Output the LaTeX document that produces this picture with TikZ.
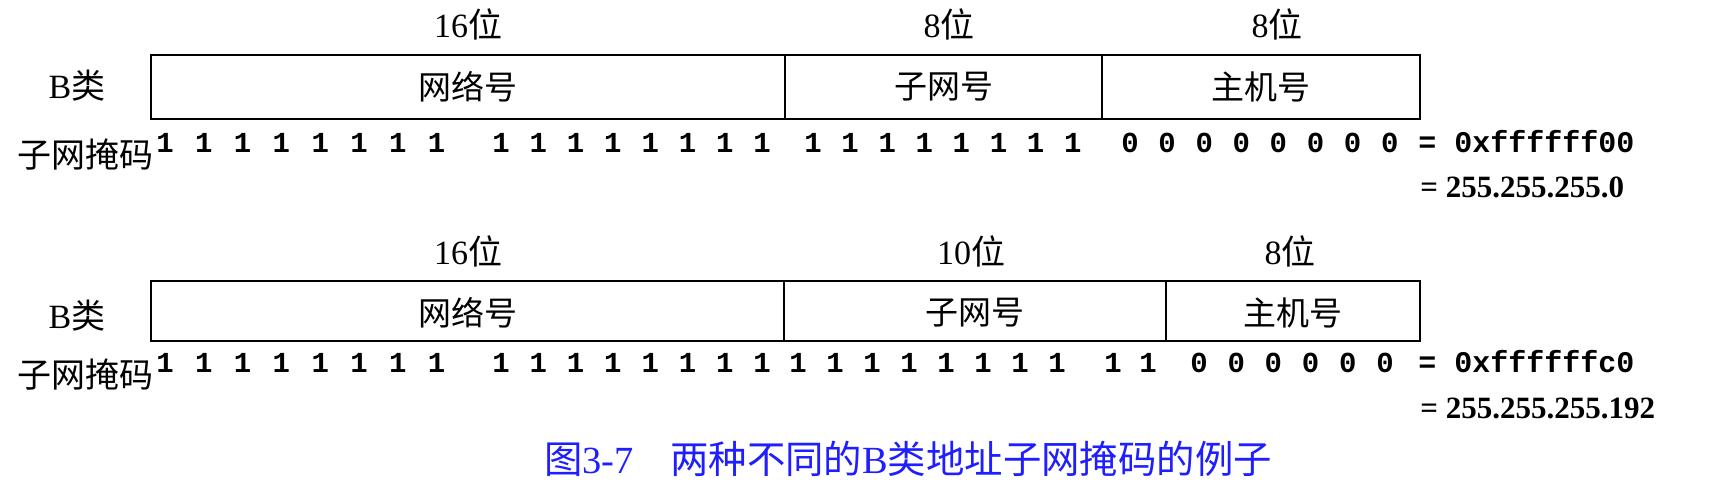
\documentclass[tikz,border=0pt]{standalone}
\usepackage{fontspec}
\setmainfont{Liberation Serif}
\newfontfamily\cjk{Noto Sans CJK SC}
\newfontfamily\monof{Liberation Mono}
\definecolor{capblue}{RGB}{30,30,255}
\begin{document}
\begin{tikzpicture}[x=0.5pt,y=-0.5pt,
  field/.style={draw,line width=1.2pt},
  lbl/.style={inner sep=0pt,font=\fontsize{17}{17}\selectfont},
  boxlbl/.style={inner sep=0pt,font=\fontsize{16.5}{16.5}\selectfont\cjk},
  bit/.style={inner sep=0pt,anchor=base,font=\fontsize{14.5}{14.5}\selectfont\monof\bfseries},
  eqhex/.style={inner sep=0pt,anchor=base west,font=\fontsize{15}{15}\selectfont\monof\bfseries},
  eqdec/.style={inner sep=0pt,anchor=base west,font=\fontsize{15.5}{15.5}\selectfont\bfseries},
  captext/.style={inner sep=0pt,text=capblue,font=\fontsize{19.2}{19.2}\selectfont}]
\useasboundingbox (0,0) rectangle (1726,494);
% row 1
\node[lbl] (w1a) at (468,24) {16{\cjk 位}};
\node[lbl] (w1b) at (949,24) {8{\cjk 位}};
\node[lbl] (w1c) at (1277,24) {8{\cjk 位}};
\node[lbl] (b1) at (77,86) {B{\cjk 类}};
\draw[field] (151,55) rectangle (1420,119);
\draw[field] (785,55) -- (785,119);
\draw[field] (1102,55) -- (1102,119);
\node[boxlbl] (n1) at (468,87) {网络号};
\node[boxlbl] (s1) at (944,87) {子网号};
\node[boxlbl] (h1) at (1261,87) {主机号};
\node[lbl] (m1) at (86,155) {\cjk 子网掩码};
\foreach \i in {0,...,7}{
  \node[bit] (r1a\i) at ({165+38.8*\i},152) {1};
  \node[bit] (r1b\i) at ({501+37.3*\i},152) {1};
  \node[bit] (r1c\i) at ({813+37.1*\i},152) {1};
  \node[bit] (r1d\i) at ({1130+37.1*\i},152) {0};
}
\node[eqhex] (x1) at (1418,152) {= 0xffffff00};
\node[eqdec] (d1) at (1420,197) {= 255.255.255.0};
% row 2
\node[lbl] (w2a) at (468,251) {16{\cjk 位}};
\node[lbl] (w2b) at (971,251) {10{\cjk 位}};
\node[lbl] (w2c) at (1290,251) {8{\cjk 位}};
\node[lbl] (b2) at (77,316) {B{\cjk 类}};
\draw[field] (151,281) rectangle (1420,341);
\draw[field] (784,281) -- (784,341);
\draw[field] (1166,281) -- (1166,341);
\node[boxlbl] (n2) at (468,313) {网络号};
\node[boxlbl] (s2) at (975,313) {子网号};
\node[boxlbl] (h2) at (1293,313) {主机号};
\node[lbl] (m2) at (86,375) {\cjk 子网掩码};
\foreach \i in {0,...,7}{
  \node[bit] (r2a\i) at ({165+38.8*\i},372) {1};
  \node[bit] (r2b\i) at ({501+37.3*\i},372) {1};
  \node[bit] (r2c\i) at ({798+37*\i},372) {1};
}
\node[bit] (r2d0) at (1113,372) {1};
\node[bit] (r2d1) at (1148,372) {1};
\foreach \i in {0,...,5}{
  \node[bit] (r2e\i) at ({1199+37.2*\i},372) {0};
}
\node[eqhex] (x2) at (1418,372) {= 0xffffffc0};
\node[eqdec] (d2) at (1420,418) {= 255.255.255.192};
% caption
\node[captext] (caption) at (908,459) {{\cjk 图}3-7\hspace{0.95em}{\cjk 两种不同的}B{\cjk 类地址子网掩码的例子}};
\end{tikzpicture}
\end{document}
